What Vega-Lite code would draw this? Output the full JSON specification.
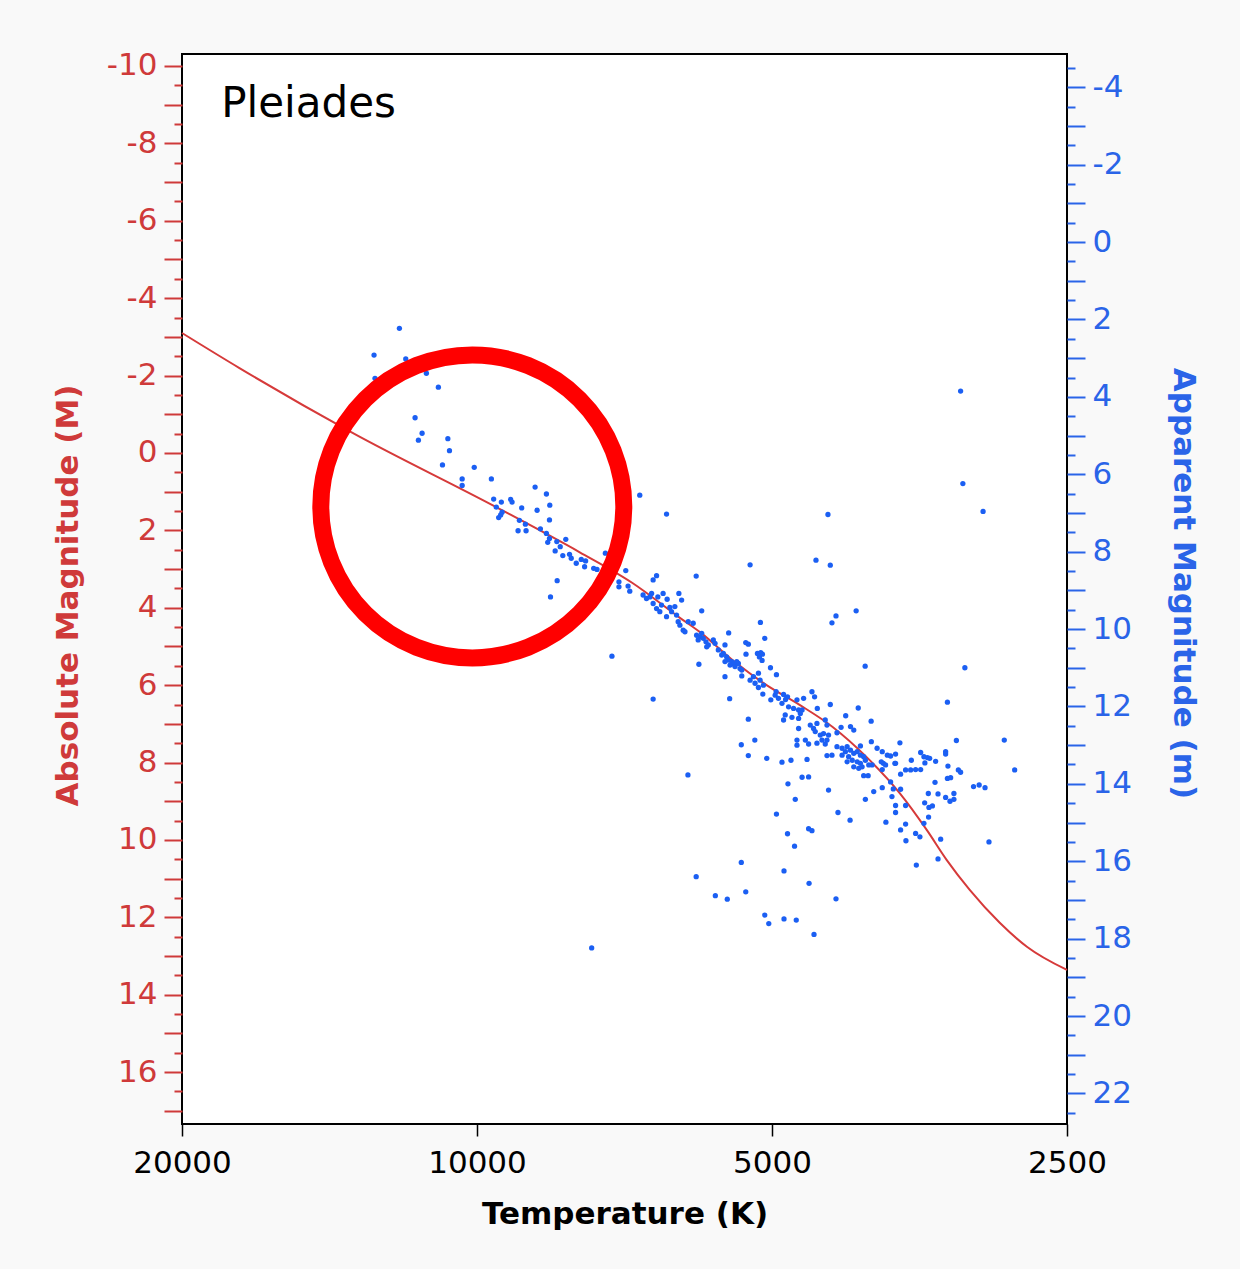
{
  "$schema": "https://vega.github.io/schema/vega-lite/v6.json",
  "width": 885,
  "height": 1070,
  "autosize": {"type": "none"},
  "padding": {"left": 182, "top": 54, "right": 173, "bottom": 145},
  "background": "#f9f9f9",
  "config": {
    "view": {"fill": "white", "stroke": "black", "strokeWidth": 2},
    "font": "DejaVu Sans",
    "axis": {"domain": false, "grid": false}
  },
  "datasets": {
    "ms": [
      {"T": 20000, "M": -3.10}, {"T": 17491, "M": -2.20}, {"T": 13440, "M": -0.54}, {"T": 9556, "M": 1.40},
      {"T": 7862, "M": 2.56}, {"T": 6940, "M": 3.36}, {"T": 6208, "M": 4.26}, {"T": 5922, "M": 4.63},
      {"T": 5475, "M": 5.37}, {"T": 5064, "M": 6.00}, {"T": 4686, "M": 6.51}, {"T": 4336, "M": 7.08},
      {"T": 4003, "M": 7.86}, {"T": 3704, "M": 8.79}, {"T": 3476, "M": 9.74}, {"T": 3316, "M": 10.52},
      {"T": 3142, "M": 11.29}, {"T": 2928, "M": 12.14}, {"T": 2747, "M": 12.76}, {"T": 2500, "M": 13.36}
    ],
    "circle": [{"T": 10111, "M": 1.38}],
    "label": [{"T": 18238, "M": -8.68, "text": "Pleiades"}],
    "stars": [
      {"T":12000,"m":2.23},{"T":12737,"m":2.92},{"T":11822,"m":3.02},{"T":12708,"m":3.52},{"T":11263,"m":3.39},
      {"T":10950,"m":3.75},{"T":11566,"m":4.54},{"T":11377,"m":4.94},{"T":11476,"m":5.12},{"T":10709,"m":5.08},
      {"T":10668,"m":5.39},{"T":10845,"m":5.76},{"T":10065,"m":5.82},{"T":10355,"m":6.12},{"T":10355,"m":6.29},
      {"T":9668,"m":6.12},{"T":8724,"m":6.33},{"T":8495,"m":6.51},{"T":8428,"m":6.80},{"T":9616,"m":6.64},
      {"T":9444,"m":6.72},{"T":9556,"m":6.85},{"T":9240,"m":6.65},{"T":9209,"m":6.72},{"T":9003,"m":6.87},
      {"T":8683,"m":6.93},{"T":9428,"m":6.98},{"T":9504,"m":7.12},{"T":9459,"m":7.05},{"T":8434,"m":7.18},
      {"T":9052,"m":7.19},{"T":8925,"m":7.29},{"T":9080,"m":7.46},{"T":8911,"m":7.46},{"T":8616,"m":7.41},
      {"T":8495,"m":7.53},{"T":8434,"m":7.66},{"T":8469,"m":7.76},{"T":8290,"m":7.74},{"T":8117,"m":7.68},
      {"T":8224,"m":7.87},{"T":8322,"m":7.98},{"T":8174,"m":8.10},{"T":8046,"m":8.07},{"T":8014,"m":8.17},
      {"T":7920,"m":8.30},{"T":7827,"m":8.20},{"T":7748,"m":8.24},{"T":7766,"m":8.39},{"T":7602,"m":8.43},
      {"T":7543,"m":8.46},{"T":7396,"m":8.04},{"T":8283,"m":8.75},{"T":8414,"m":9.17},{"T":6822,"m":6.54},
      {"T":6406,"m":7.03},{"T":7050,"m":8.49},{"T":7164,"m":8.78},{"T":7164,"m":8.91},{"T":7012,"m":8.89},
      {"T":6984,"m":9.02},{"T":6611,"m":8.73},{"T":6558,"m":8.62},{"T":7283,"m":10.70},{"T":7638,"m":18.24},
      {"T":6769,"m":9.12},{"T":6715,"m":9.21},{"T":6635,"m":9.08},{"T":6611,"m":9.34},{"T":6558,"m":9.47},
      {"T":6482,"m":9.38},{"T":6508,"m":9.55},{"T":6458,"m":9.08},{"T":6397,"m":9.23},{"T":6406,"m":9.68},
      {"T":6331,"m":9.55},{"T":6282,"m":9.42},{"T":6257,"m":9.64},{"T":6223,"m":9.08},{"T":6183,"m":9.25},
      {"T":6233,"m":9.81},{"T":6208,"m":9.90},{"T":6160,"m":10.03},{"T":6135,"m":10.07},{"T":6088,"m":9.81},
      {"T":6017,"m":9.85},{"T":6662,"m":9.17},{"T":6538,"m":9.17},{"T":6356,"m":9.44},{"T":5975,"m":8.63},
      {"T":5898,"m":9.53},{"T":6611,"m":11.81},{"T":5937,"m":10.91},
      {"T":5969,"m":10.16},{"T":5922,"m":10.20},{"T":5947,"m":10.28},{"T":5898,"m":10.11},{"T":5876,"m":10.24},
      {"T":5839,"m":10.33},{"T":5807,"m":10.41},{"T":5739,"m":10.28},{"T":5716,"m":10.37},{"T":5829,"m":10.46},
      {"T":5672,"m":10.54},{"T":5627,"m":10.67},{"T":5606,"m":10.63},{"T":5562,"m":10.72},{"T":5541,"m":10.80},
      {"T":5496,"m":10.84},{"T":5475,"m":10.90},{"T":5454,"m":10.97},{"T":5411,"m":10.89},{"T":5390,"m":11.02},
      {"T":5368,"m":11.06},{"T":5432,"m":10.84},{"T":5584,"m":10.84},{"T":5518,"m":10.93},{"T":5536,"m":10.10},
      {"T":5584,"m":10.41},{"T":5318,"m":10.35},{"T":5286,"m":10.39},{"T":5315,"m":10.65},{"T":5174,"m":10.63},
      {"T":5134,"m":10.61},{"T":5114,"m":10.65},{"T":5150,"m":10.72},{"T":5118,"m":10.81},{"T":5138,"m":9.83},
      {"T":5086,"m":10.24},{"T":4302,"m":9.66},{"T":4343,"m":9.84},{"T":4103,"m":9.53},{"T":4017,"m":10.96},
      {"T":5018,"m":11.00},{"T":4948,"m":11.18},{"T":5584,"m":11.23},{"T":5368,"m":11.21},{"T":5264,"m":11.32},
      {"T":5223,"m":11.23},{"T":5162,"m":11.14},{"T":5203,"m":11.40},{"T":5142,"m":11.32},{"T":5102,"m":11.45},
      {"T":5162,"m":11.51},{"T":5523,"m":11.80},{"T":5109,"m":11.68},{"T":5014,"m":11.83},{"T":4963,"m":11.71},
      {"T":4925,"m":11.79},{"T":4866,"m":11.69},{"T":4821,"m":11.75},{"T":4843,"m":11.82},{"T":4952,"m":11.62},
      {"T":4884,"m":11.92},{"T":4809,"m":12.01},{"T":4753,"m":12.05},{"T":4697,"m":12.09},{"T":4715,"m":11.83},
      {"T":4642,"m":11.79},{"T":4659,"m":12.09},{"T":4847,"m":12.22},{"T":4866,"m":12.35},{"T":4771,"m":12.28},
      {"T":4697,"m":12.31},{"T":4678,"m":12.18},{"T":4552,"m":11.62},{"T":4524,"m":11.75},{"T":4495,"m":12.05},
      {"T":4360,"m":11.95},{"T":4083,"m":12.04},{"T":4205,"m":12.24},{"T":5286,"m":12.33},{"T":4697,"m":12.57},
      {"T":4570,"m":12.48},{"T":4535,"m":12.57},{"T":4499,"m":12.44},{"T":4517,"m":12.65},{"T":4412,"m":12.35},
      {"T":4394,"m":12.48},{"T":4251,"m":12.54},{"T":4158,"m":12.52},{"T":4126,"m":12.61},{"T":3961,"m":12.38},
      {"T":4292,"m":12.68},{"T":4464,"m":12.74},{"T":4430,"m":12.70},{"T":4378,"m":12.74},{"T":4715,"m":12.87},
      {"T":4715,"m":13.00},{"T":4623,"m":12.87},{"T":4588,"m":12.97},{"T":4499,"m":12.95},{"T":4446,"m":12.87},
      {"T":4412,"m":12.97},{"T":4394,"m":12.87},{"T":5206,"m":12.87},{"T":5374,"m":12.99},{"T":4292,"m":13.04},
      {"T":4241,"m":13.08},{"T":4208,"m":13.17},{"T":4191,"m":13.04},{"T":4158,"m":13.13},{"T":4126,"m":13.21},
      {"T":4093,"m":13.17},{"T":4062,"m":13.26},{"T":4031,"m":13.30},{"T":4176,"m":13.30},{"T":4141,"m":13.39},
      {"T":4093,"m":13.43},{"T":4062,"m":13.47},{"T":4015,"m":13.39},{"T":3983,"m":13.51},{"T":4126,"m":13.56},
      {"T":4078,"m":13.60},{"T":4046,"m":13.56},{"T":4191,"m":13.43},{"T":4241,"m":13.26},{"T":4062,"m":13.02},
      {"T":3959,"m":12.91},{"T":3906,"m":13.08},{"T":3859,"m":13.17},{"T":3813,"m":13.26},{"T":3849,"m":13.47},
      {"T":3746,"m":13.47},{"T":3702,"m":12.94},{"T":4394,"m":13.27},{"T":4343,"m":13.26},{"T":5286,"m":13.27},
      {"T":5062,"m":13.34},{"T":4884,"m":13.44},{"T":4782,"m":13.39},{"T":4605,"m":13.37},{"T":4378,"m":14.16},
      {"T":4659,"m":13.83},{"T":4588,"m":13.82},{"T":4816,"m":14.00},{"T":4031,"m":13.79},{"T":3989,"m":13.79},
      {"T":3937,"m":14.20},{"T":3859,"m":14.10},{"T":3760,"m":14.13},{"T":3772,"m":14.33},{"T":4015,"m":14.40},
      {"T":4734,"m":14.40},
      {"T":5264,"m":8.34},{"T":4509,"m":8.22},{"T":4360,"m":8.35},{"T":4384,"m":7.04},{"T":3210,"m":3.85},
      {"T":3193,"m":6.24},{"T":3045,"m":6.96},{"T":3178,"m":11.00},
      {"T":3311,"m":11.89},{"T":3242,"m":12.88},{"T":2897,"m":12.87},{"T":2827,"m":13.64},{"T":3868,"m":13.43},
      {"T":3829,"m":13.51},{"T":3859,"m":13.63},{"T":3784,"m":13.28},{"T":3740,"m":13.23},{"T":3740,"m":13.47},
      {"T":3604,"m":13.39},{"T":3526,"m":13.19},{"T":3499,"m":13.30},{"T":3471,"m":13.32},{"T":3452,"m":13.34},
      {"T":3404,"m":13.42},{"T":3325,"m":13.17},{"T":3325,"m":13.23},{"T":3491,"m":13.46},{"T":3307,"m":13.54},
      {"T":3653,"m":13.64},{"T":3610,"m":13.64},{"T":3568,"m":13.63},{"T":3526,"m":13.63},{"T":3696,"m":13.75},
      {"T":3227,"m":13.64},{"T":3210,"m":13.70},{"T":3311,"m":13.86},{"T":3286,"m":13.84},{"T":3409,"m":13.96},
      {"T":3784,"m":13.95},{"T":3696,"m":14.14},{"T":3114,"m":14.07},{"T":3073,"m":14.03},{"T":3031,"m":14.10},
      {"T":3463,"m":14.25},{"T":3385,"m":14.26},{"T":3261,"m":14.25},{"T":3261,"m":14.40},{"T":3291,"m":14.45},
      {"T":3325,"m":14.35},{"T":3653,"m":14.56},{"T":3740,"m":14.56},{"T":3740,"m":14.74},{"T":3493,"m":14.49},
      {"T":3458,"m":14.61},{"T":3430,"m":14.57},{"T":3461,"m":14.86},{"T":3499,"m":15.02},{"T":3826,"m":14.99},
      {"T":3653,"m":15.04},{"T":3696,"m":15.19},{"T":3568,"m":15.28},{"T":3532,"m":15.37},{"T":3364,"m":15.43},
      {"T":3003,"m":15.50},{"T":3385,"m":15.94},{"T":3562,"m":16.10},{"T":3650,"m":15.47},{"T":3952,"m":13.51},
      {"T":6092,"m":13.77},{"T":4948,"m":14.78},{"T":4282,"m":14.74},{"T":4162,"m":14.94},{"T":4588,"m":15.16},
      {"T":4552,"m":15.21},{"T":4821,"m":15.29},{"T":4742,"m":15.61},{"T":5374,"m":16.03},{"T":4861,"m":16.25},
      {"T":5975,"m":16.40},{"T":4583,"m":16.57},{"T":5318,"m":16.79},{"T":5712,"m":16.89},{"T":5554,"m":16.98},
      {"T":4302,"m":16.97},{"T":5086,"m":17.39},{"T":5038,"m":17.61},{"T":4861,"m":17.49},{"T":4723,"m":17.52},
      {"T":4530,"m":17.89}
    ]
  },
  "layer": [
    {
      "data": {"name": "ms"},
      "mark": {"type": "line", "color": "#d63a3a", "strokeWidth": 2, "interpolate": "monotone"},
      "encoding": {
        "x": {
          "field": "T", "type": "quantitative",
          "scale": {"type": "log", "domain": [2500, 20000], "reverse": true, "nice": false},
          "axis": {
            "values": [20000, 10000, 5000, 2500], "format": "d",
            "title": "Temperature (K)", "titleFontSize": 31, "titleFontWeight": "bold", "titleColor": "black",
            "titleX": 442.5, "titleY": 99, "titleBaseline": "alphabetic", "titleAlign": "center",
            "labelFontSize": 31, "labelColor": "black", "labelPadding": 12, "labelFlush": false, "labelOverlap": false,
            "tickColor": "black", "tickSize": 12, "tickWidth": 1.5
          }
        },
        "y": {
          "field": "M", "type": "quantitative",
          "scale": {"domain": [-10.31, 17.34], "reverse": true, "nice": false, "zero": false},
          "axis": {
            "orient": "left",
            "values": [-10,-9.5,-9,-8.5,-8,-7.5,-7,-6.5,-6,-5.5,-5,-4.5,-4,-3.5,-3,-2.5,-2,-1.5,-1,-0.5,0,0.5,1,1.5,2,2.5,3,3.5,4,4.5,5,5.5,6,6.5,7,7.5,8,8.5,9,9.5,10,10.5,11,11.5,12,12.5,13,13.5,14,14.5,15,15.5,16,16.5,17],
            "labelExpr": "datum.value % 2 === 0 ? '' + datum.value : ''",
            "tickSize": {"condition": {"test": "datum.value % 1 === 0", "value": 18}, "value": 8},
            "tickColor": "#cf3a3a", "tickWidth": 2,
            "labelColor": "#cf3a3a", "labelFontSize": 31, "labelPadding": 7, "labelOverlap": false,
            "title": "Absolute Magnitude (M)", "titleColor": "#cf3a3a", "titleFontSize": 31, "titleFontWeight": "bold",
            "titleAngle": 270, "titleX": -114, "titleY": 541, "titleBaseline": "middle", "titleAlign": "center"
          }
        }
      }
    },
    {
      "data": {"name": "stars"},
      "mark": {"type": "circle", "size": 28, "color": "#1b5ff3", "opacity": 1},
      "encoding": {
        "x": {"field": "T", "type": "quantitative"},
        "y": {
          "field": "m", "type": "quantitative",
          "scale": {"domain": [-4.86, 22.79], "reverse": true, "nice": false, "zero": false},
          "axis": {
            "orient": "right",
            "values": [-4.5,-4,-3.5,-3,-2.5,-2,-1.5,-1,-0.5,0,0.5,1,1.5,2,2.5,3,3.5,4,4.5,5,5.5,6,6.5,7,7.5,8,8.5,9,9.5,10,10.5,11,11.5,12,12.5,13,13.5,14,14.5,15,15.5,16,16.5,17,17.5,18,18.5,19,19.5,20,20.5,21,21.5,22,22.5],
            "labelExpr": "datum.value % 2 === 0 ? '' + datum.value : ''",
            "tickSize": {"condition": {"test": "datum.value % 1 === 0", "value": 18}, "value": 8},
            "tickColor": "#2a64e8", "tickWidth": 2,
            "labelColor": "#2a64e8", "labelFontSize": 31, "labelPadding": 7, "labelOverlap": false,
            "title": "Apparent Magnitude (m)", "titleColor": "#2a64e8", "titleFontSize": 31, "titleFontWeight": "bold",
            "titleAngle": 90, "titleX": 115, "titleY": 529, "titleBaseline": "middle", "titleAlign": "center"
          }
        }
      }
    },
    {
      "data": {"name": "circle"},
      "mark": {"type": "point", "shape": "circle", "filled": false, "size": 91809, "stroke": "#ff0000", "strokeWidth": 17, "opacity": 1},
      "encoding": {
        "x": {"field": "T", "type": "quantitative"},
        "y": {"field": "M", "type": "quantitative", "scale": {"domain": [-10.31, 17.34], "reverse": true, "nice": false, "zero": false}, "axis": null}
      }
    },
    {
      "data": {"name": "label"},
      "mark": {"type": "text", "align": "left", "baseline": "alphabetic", "fontSize": 42, "color": "black", "font": "DejaVu Sans"},
      "encoding": {
        "x": {"field": "T", "type": "quantitative"},
        "y": {"field": "M", "type": "quantitative", "scale": {"domain": [-10.31, 17.34], "reverse": true, "nice": false, "zero": false}, "axis": null},
        "text": {"field": "text"}
      }
    }
  ],
  "resolve": {"scale": {"y": "independent"}, "axis": {"y": "independent"}}
}
